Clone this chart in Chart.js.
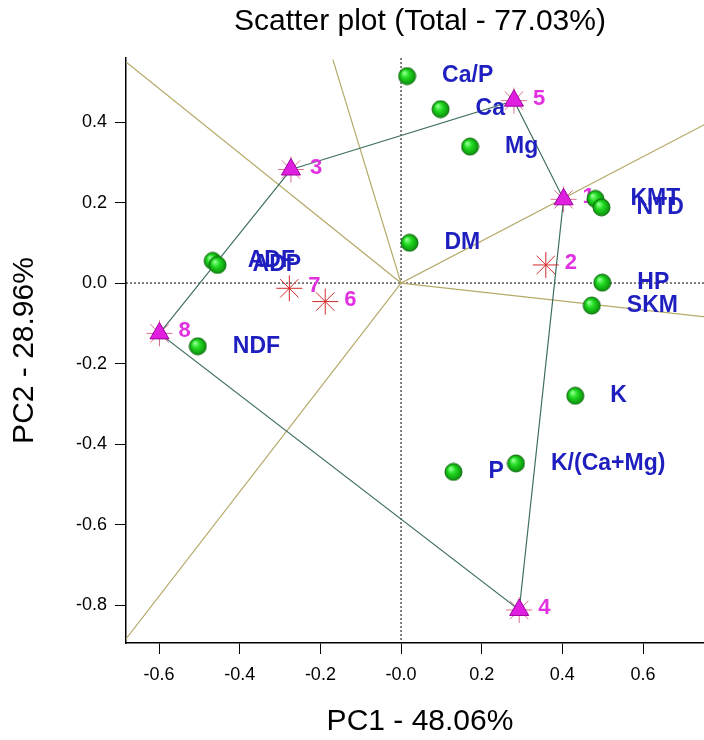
<!DOCTYPE html>
<html>
<head>
<meta charset="utf-8">
<script src="https://cdn.jsdelivr.net/npm/chart.js@4.4.1/dist/chart.umd.min.js"></script>
<style>
  html, body { margin: 0; padding: 0; background: #fff; overflow: hidden; }
  #wrap { width: 704px; height: 740px; overflow: hidden; }
  canvas { display: block; }
</style>
</head>
<body>
<div id="wrap"><canvas id="pca-chart" width="714" height="740"></canvas></div>
<script>
// 變數 (loadings)
const varNames = ['Ca/P', 'Ca', 'Mg', 'KMT', 'NTD', 'DM', 'ADF', 'ADP', 'NDF', 'HP', 'SKM', 'K', 'K/(Ca+Mg)', 'P'];
const varPC1   = [0.015, 0.098, 0.171, 0.482, 0.497, 0.021, -0.467, -0.455, -0.504, 0.499, 0.473, 0.432, 0.285, 0.130];
const varPC2   = [0.514, 0.432, 0.339, 0.209, 0.188, 0.100, 0.055, 0.045, -0.157, 0.001, -0.056, -0.280, -0.448, -0.469];

// 樣本 (scores)
const sampleNames = ['1', '2', '3', '4', '5', '6', '7', '8'];
const samplePC1   = [0.403, 0.359, -0.273, 0.293, 0.280, -0.188, -0.277, -0.599];
const samplePC2   = [0.208, 0.045, 0.282, -0.812, 0.453, -0.046, -0.013, -0.125];

// 外框多邊形的頂點順序
const hullOrder = ['3', '5', '1', '4', '8', '3'];

// 從原點出發的射線終點
const rayEndPC1 = [-0.682, -0.169, 0.78, 0.78, -0.682];
const rayEndPC2 = [0.549, 0.555, 0.408, -0.087, -0.884];

// 軸刻度
const xTicks = [-0.6, -0.4, -0.2, 0, 0.2, 0.4, 0.6];
const xTickLabels = ['-0.6', '-0.4', '-0.2', '-0.0', '0.2', '0.4', '0.6'];
const yTicks = [-0.8, -0.6, -0.4, -0.2, 0, 0.2, 0.4];
const yTickLabels = ['-0.8', '-0.6', '-0.4', '-0.2', '0.0', '0.2', '0.4'];

const FONT = "'Liberation Sans', Arial, sans-serif";
Chart.defaults.font.family = FONT;
Chart.defaults.color = '#000';

function makeSphere(r) {
  const c = document.createElement('canvas');
  const s = Math.ceil(r * 2 + 2);
  c.width = c.height = s;
  const g = c.getContext('2d');
  const m = s / 2;
  const grad = g.createRadialGradient(m - r * 0.35, m - r * 0.4, r * 0.1, m, m, r);
  grad.addColorStop(0, '#8cff8c');
  grad.addColorStop(0.4, '#22dc22');
  grad.addColorStop(1, '#0b8f0b');
  g.fillStyle = grad;
  g.beginPath();
  g.arc(m, m, r, 0, Math.PI * 2);
  g.fill();
  g.strokeStyle = '#0d6a0d';
  g.lineWidth = 1;
  g.stroke();
  return c;
}

const samplePt = name => {
  const i = sampleNames.indexOf(name);
  return { x: samplePC1[i], y: samplePC2[i] };
};
const vertexNames = hullOrder.slice(0, -1);

const rayPath = [];
rayEndPC1.forEach((x, i) => {
  rayPath.push({ x: 0, y: 0 });
  rayPath.push({ x, y: rayEndPC2[i] });
});
rayPath.push({ x: 0, y: 0 });

const HULL_IDX = 3;
const TRI_IDX = 1;

const labelPlugin = {
  id: 'pcaLabels',
  beforeDatasetsDraw(chart) {
    const { ctx, chartArea: a, scales: { x, y } } = chart;
    const x0 = x.getPixelForValue(0);
    const y0 = y.getPixelForValue(0);
    ctx.save();
    ctx.strokeStyle = '#000';
    ctx.lineWidth = 1;
    ctx.setLineDash([2, 2]);
    ctx.beginPath();
    ctx.moveTo(x0, a.top); ctx.lineTo(x0, a.bottom);
    ctx.moveTo(a.left, y0); ctx.lineTo(a.right, y0);
    ctx.stroke();
    ctx.restore();
  },
  afterDatasetDraw(chart, args) {
    const { ctx } = chart;
    if (args.index === HULL_IDX) {
      // 變數名稱 (藍)
      const pts = chart.getDatasetMeta(0).data;
      ctx.save();
      ctx.font = `bold 23px ${FONT}`;
      ctx.fillStyle = '#1f1fbf';
      ctx.textBaseline = 'middle';
      ctx.textAlign = 'left';
      pts.forEach((p, i) => ctx.fillText(varNames[i], p.x + 35, p.y));
      ctx.restore();
    }
    if (args.index === TRI_IDX) {
      // 樣本編號 (洋紅)
      const pts = chart.getDatasetMeta(2).data;
      ctx.save();
      ctx.font = `bold 22px ${FONT}`;
      ctx.fillStyle = '#e030e0';
      ctx.textBaseline = 'middle';
      ctx.textAlign = 'left';
      pts.forEach((p, i) => ctx.fillText(sampleNames[i], p.x + 19, p.y - 2));
      ctx.restore();
    }
  }
};

new Chart(document.getElementById('pca-chart'), {
  type: 'scatter',
  data: {
    datasets: [
      {
        label: 'variables',
        data: varPC1.map((x, i) => ({ x, y: varPC2[i] })),
        pointStyle: makeSphere(8.5),
        pointRadius: 9,
        order: 1
      },
      {
        label: 'vertices',
        data: vertexNames.map(samplePt),
        pointStyle: 'triangle',
        pointRadius: 11,
        backgroundColor: '#e01ee0',
        borderColor: '#a000a0',
        borderWidth: 1,
        order: 2
      },
      {
        label: 'samples',
        data: sampleNames.map(samplePt),
        pointStyle: 'star',
        pointRadius: 13,
        borderColor: sampleNames.map(n => vertexNames.includes(n) ? '#d8708c' : '#d42a2a'),
        borderWidth: 1,
        order: 3
      },
      {
        label: 'hull',
        data: hullOrder.map(samplePt),
        showLine: true,
        pointRadius: 0,
        borderColor: '#3f6f60',
        borderWidth: 1.2,
        order: 4
      },
      {
        label: 'rays',
        data: rayPath,
        showLine: true,
        pointRadius: 0,
        borderColor: '#b5aa6a',
        borderWidth: 1.2,
        order: 5
      }
    ]
  },
  options: {
    responsive: false,
    animation: false,
    events: [],
    layout: { padding: 0, autoPadding: false },
    plugins: {
      legend: { display: false },
      tooltip: { enabled: false },
      title: {
        display: true,
        fullSize: false,
        text: 'Scatter plot (Total - 77.03%)',
        color: '#000',
        font: { size: 30, weight: 'normal' },
        padding: { top: 4, bottom: 18 }
      }
    },
    scales: {
      x: {
        type: 'linear',
        min: -0.682,
        max: 0.776,
        afterBuildTicks: s => { s.ticks = xTicks.map(v => ({ value: v })); },
        afterFit: s => { s.height = 97; s.paddingLeft = 0; s.paddingRight = 0; },
        ticks: {
          callback: (v, i) => xTickLabels[i],
          font: { size: 18 },
          color: '#000',
          padding: 10,
          maxRotation: 0
        },
        grid: { drawOnChartArea: false, drawTicks: true, tickLength: 11, tickColor: '#000', tickWidth: 1 },
        border: { display: true, color: '#000', width: 1.5 },
        title: {
          display: true,
          text: 'PC1 - 48.06%',
          color: '#000',
          font: { size: 30 },
          padding: { top: 0, bottom: 0 }
        }
      },
      y: {
        type: 'linear',
        min: -0.894,
        max: 0.559,
        afterBuildTicks: s => { s.ticks = yTicks.map(v => ({ value: v })); },
        afterFit: s => { s.width = 126; s.paddingTop = 0; s.paddingBottom = 0; },
        ticks: {
          callback: (v, i) => yTickLabels[i],
          font: { size: 18 },
          color: '#000',
          padding: 8
        },
        grid: { drawOnChartArea: false, drawTicks: true, tickLength: 11, tickColor: '#000', tickWidth: 1 },
        border: { display: true, color: '#000', width: 1.5 },
        title: {
          display: true,
          text: 'PC2 - 28.96%',
          color: '#000',
          font: { size: 30 },
          padding: { top: 7, bottom: 0 }
        }
      }
    }
  },
  plugins: [labelPlugin]
});
</script>
</body>
</html>
